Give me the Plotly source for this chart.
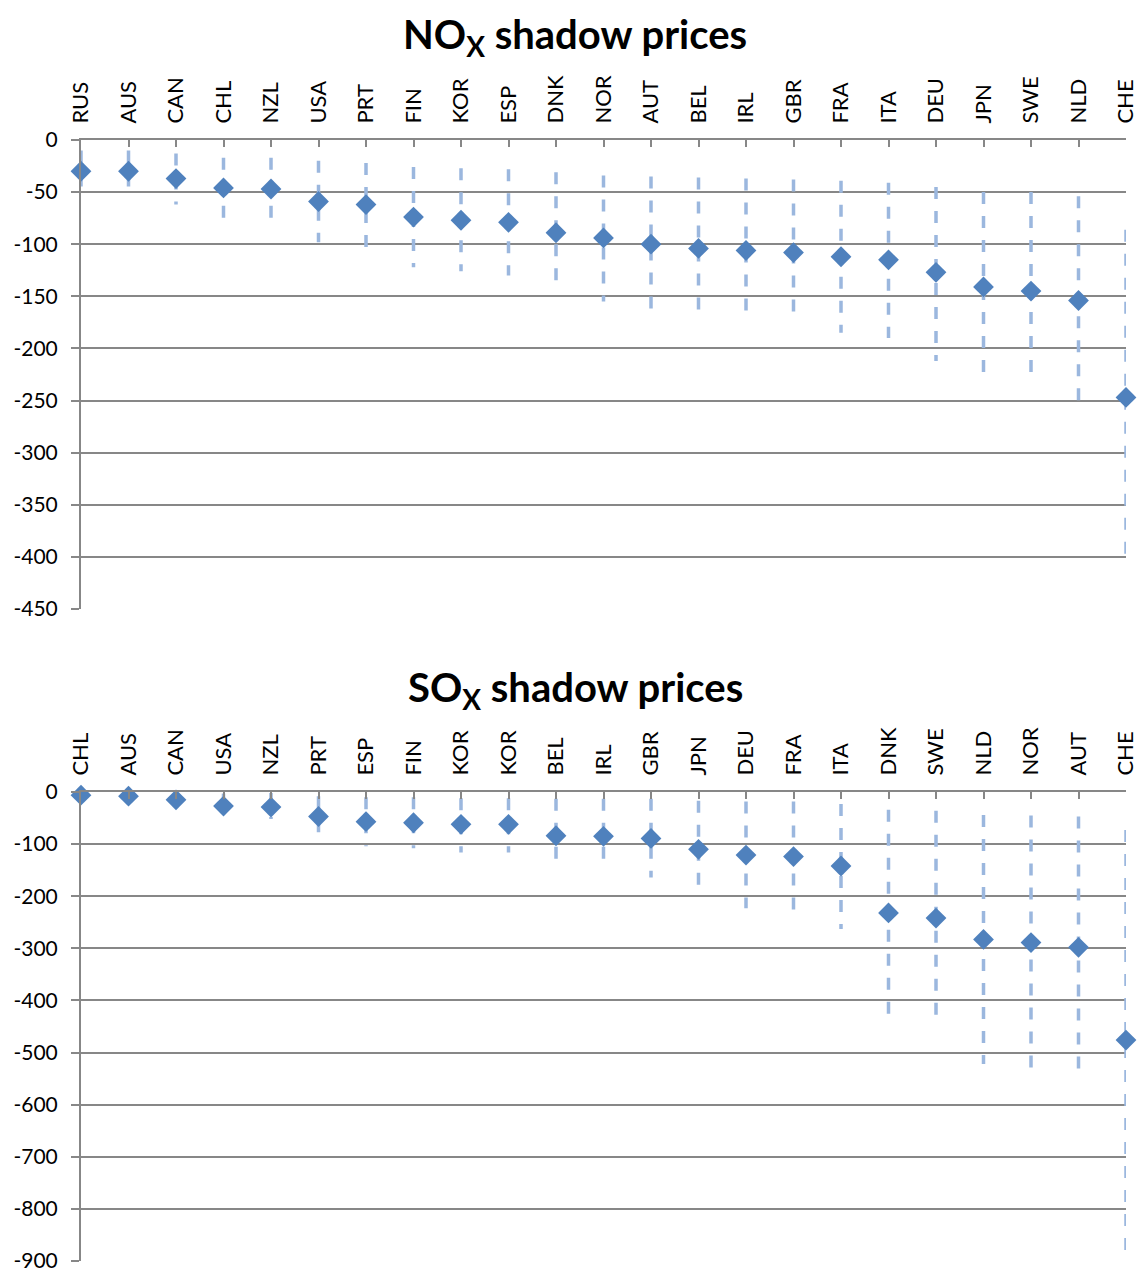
import plotly.graph_objects as go
from plotly.subplots import make_subplots

# NOx shadow prices
nox_countries = ["RUS", "AUS", "CAN", "CHL", "NZL", "USA", "PRT", "FIN", "KOR", "ESP", "DNK",
                 "NOR", "AUT", "BEL", "IRL", "GBR", "FRA", "ITA", "DEU", "JPN", "SWE", "NLD", "CHE"]
nox_mid = [-30, -30, -37, -46, -47, -59, -62, -74, -77, -79, -89,
           -94, -100, -104, -106, -108, -112, -115, -127, -141, -145, -154, -247]
nox_high = [-10, -10, -13, -17, -17, -20, -22, -26, -27, -28, -31,
            -34, -35, -36, -37, -38, -39, -41, -45, -50, -50, -54, -86]
nox_low = [-48, -47, -62, -76, -78, -98, -103, -122, -126, -130, -140,
           -155, -165, -168, -169, -170, -185, -190, -212, -230, -230, -256, -408]
nox_ticks = [0, -50, -100, -150, -200, -250, -300, -350, -400, -450]

# SOx shadow prices
sox_countries = ["CHL", "AUS", "CAN", "USA", "NZL", "PRT", "ESP", "FIN", "KOR", "KOR", "BEL",
                 "IRL", "GBR", "JPN", "DEU", "FRA", "ITA", "DNK", "SWE", "NLD", "NOR", "AUT", "CHE"]
sox_mid = [-6, -8, -15, -27, -29, -47, -57, -59, -62, -62, -84,
           -85, -89, -110, -121, -124, -142, -232, -242, -283, -289, -298, -476]
sox_high = [-2, -3, -5, -3, -2, -8, -10, -10, -12, -12, -13,
            -13, -13, -17, -18, -18, -23, -34, -36, -44, -45, -47, -73]
sox_low = [-10, -12, -20, -38, -52, -82, -104, -108, -116, -116, -136,
           -136, -164, -187, -223, -228, -263, -428, -445, -522, -533, -547, -910]
sox_ticks = [0, -100, -200, -300, -400, -500, -600, -700, -800, -900]

MARK = "#4F81BD"
RANGE = "#9BB7DE"
GRID = "#878787"
FONT = "Lato, 'Open Sans', sans-serif"

fig = make_subplots(rows=2, cols=1)


def add_panel(row, countries, mid, high, low, yticks):
    idx = list(range(len(countries)))
    xs, ys = [], []
    for i, h, l in zip(idx, high, low):
        xs += [i, i, None]
        ys += [h, l, None]
    fig.add_trace(go.Scatter(x=xs, y=ys, mode="lines", showlegend=False, hoverinfo="skip",
                             line=dict(color=RANGE, width=3.5, dash="12px,12px")),
                  row=row, col=1)
    fig.add_trace(go.Scatter(x=idx, y=mid, mode="markers", showlegend=False,
                             text=countries, cliponaxis=False,
                             marker=dict(symbol="diamond", size=16, color=MARK)),
                  row=row, col=1)
    fig.update_xaxes(range=[0, len(countries) - 1], tickmode="array", tickvals=idx,
                     ticktext=countries, side="top", tickangle=-90, ticks="inside",
                     ticklen=7, tickcolor=GRID, tickwidth=2, showgrid=False,
                     showline=True, linecolor=GRID, linewidth=2, zeroline=False,
                     automargin=False, ticklabeloverflow="allow",
                     tickfont=dict(size=22, color="black", family=FONT),
                     ticklabelstandoff=10, row=row, col=1)
    fig.update_yaxes(range=[yticks[-1], 0], tickmode="array", tickvals=yticks,
                     ticktext=[str(v) for v in yticks], automargin=False,
                     row=row, col=1)


add_panel(1, nox_countries, nox_mid, nox_high, nox_low, nox_ticks)
add_panel(2, sox_countries, sox_mid, sox_high, sox_low, sox_ticks)

fig.update_yaxes(showgrid=True, gridcolor=GRID, gridwidth=1.5, zeroline=False,
                 showline=True, linecolor=GRID, linewidth=2, ticks="outside",
                 ticklen=8, tickcolor=GRID, tickwidth=2, ticklabelstandoff=9,
                 ticklabeloverflow="allow",
                 tickfont=dict(size=21, color="black", family=FONT))

fig.update_layout(
    width=1138, height=1270,
    margin=dict(l=81, r=12, t=0, b=0),
    paper_bgcolor="white", plot_bgcolor="white",
    font=dict(family=FONT, color="black"),
    xaxis=dict(domain=[0, 1]), xaxis2=dict(domain=[0, 1]),
    yaxis=dict(domain=[1 - 609 / 1270, 1 - 140 / 1270]),
    yaxis2=dict(domain=[1 - 1261 / 1270, 1 - 792 / 1270]),
    annotations=[
        dict(text="<b>NO<sub>X</sub> shadow prices</b>", x=0.473, y=1 - 37 / 1270,
             xref="paper", yref="paper", yanchor="middle", showarrow=False,
             font=dict(size=40, family=FONT)),
        dict(text="<b>SO<sub>X</sub> shadow prices</b>", x=0.473, y=1 - 689 / 1270,
             xref="paper", yref="paper", yanchor="middle", showarrow=False,
             font=dict(size=40, family=FONT)),
    ],
)

# drop the default page margin so the figure sits at the window's top-left corner
fig.write_html("out.html", config={"displayModeBar": False},
               post_script="document.body.style.margin='0';document.body.style.overflow='hidden';")
